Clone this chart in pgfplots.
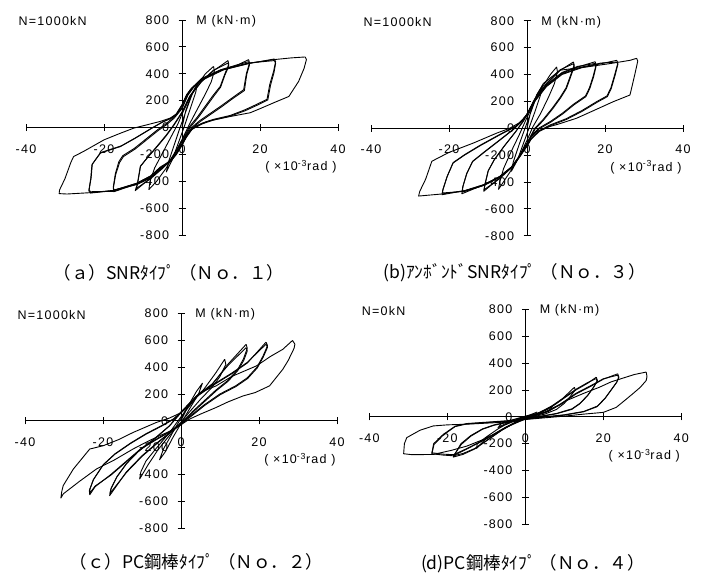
\documentclass[border=0pt]{standalone}
\usepackage{fontspec}
\setmainfont{Liberation Sans}
\newfontfamily\lbl[LetterSpace=10]{Liberation Sans}
\newfontfamily\jp{Noto Sans CJK JP}
\usepackage{pgfplots}
\pgfplotsset{compat=1.18}

\pgfplotsset{
  hys/.style={
    width=312pt, height=215pt, scale only axis,
    xmin=-40, xmax=40, ymin=-800, ymax=800,
    axis lines=middle, axis line style={-, black, line width=0.8pt},
    xtick={-40,-20,0,20,40}, ytick={-800,-600,...,800},
    xticklabels={-40,-20,0,20,40},
    yticklabels={-800,-600,-400,-200,0,200,400,600,800},
    hide obscured x ticks=false, hide obscured y ticks=false,
    tick align=center, major tick length=7pt,
    tick style={black, line width=0.8pt},
    ticklabel style={font=\lbl\fontsize{12.5}{14}\selectfont},
    xticklabel style={anchor=north, yshift=-10pt},
    yticklabel style={anchor=east, xshift=-6pt},
    clip=false,
    cycle list={{black, solid}},
    every axis plot post/.append style={black, solid, line width=0.9pt, line join=round, mark=none},
  }
}
\newcommand{\tl}{\lbl\fontsize{12.5}{14}\selectfont}

\begin{document}
\begin{tikzpicture}
\path (0pt,0pt) rectangle (704pt,575pt);

% (a) SNR No.1
\begin{axis}[hys, at={(26pt,340pt)}, anchor=south west]
\addplot coordinates {(0,0)(1,130)(2.5,250)(4,330)(3.5,260)(2,130)(0.5,0)(-1,-120)(-2.5,-240)(-4,-330)(-3.5,-260)(-2,-130)(-0.5,0)(1,120)(2.5,240)(4,330)};
\addplot coordinates {(8.1,455)(8.3,420)(7.5,340)(6,250)(4,140)(2,30)(0,-90)(-2,-200)(-4,-300)(-6.5,-400)(-8.5,-462)(-8.2,-400)(-7,-300)(-5,-190)(-3,-80)(-1,30)(0,100)(2,220)(4,320)(6,400)(8.1,455)};
\addplot coordinates {(11.8,498)(12,470)(11,400)(9.8,306)(8,240)(6,160)(4,80)(2,10)(0.5,-70)(-1,-150)(-3,-240)(-5,-300)(-8,-375)(-12,-470)(-11.5,-430)(-10.7,-291)(-9,-230)(-6,-130)(-4,-60)(-2,20)(0,110)(2,230)(5,340)(8,420)(11.8,498)};
\addplot coordinates {(11.8,480)(12,455)(11,390)(9.9,300)(8.2,235)(6.2,155)(4.2,75)(2.2,5)(0.6,-75)(-1,-155)(-3,-245)(-5,-305)(-8,-380)(-11.8,-455)(-11.4,-420)(-10.6,-285)(-8.9,-225)(-6,-125)(-4,-55)(-2,25)(0,115)(2,235)(5,345)(8,425)(11.8,480)};
\addplot coordinates {(17.1,505)(17.3,480)(16.5,400)(15.8,281)(12.8,219)(10,160)(7,100)(4.5,50)(2.5,0)(1,-60)(0,-120)(-1.5,-190)(-3,-250)(-5.6,-305)(-8,-370)(-11.6,-420)(-17.5,-478)(-17.6,-450)(-17,-350)(-16,-260)(-15,-216)(-12,-160)(-9,-90)(-6,-20)(-4,20)(-2,70)(0,140)(1.5,240)(3,300)(5,360)(10,425)(14,462)(17.1,505)};
\addplot coordinates {(17.1,490)(17.3,465)(16.6,395)(16,275)(13,215)(10.2,155)(7.2,95)(4.7,45)(2.6,-5)(1.1,-65)(0,-125)(-1.5,-195)(-3,-255)(-5.6,-310)(-8,-375)(-11.6,-425)(-17.5,-465)(-17.6,-440)(-17.1,-345)(-16.2,-255)(-15.2,-210)(-12.2,-155)(-9.2,-85)(-6.2,-15)(-4.2,25)(-2.2,75)(0,145)(1.5,245)(3,305)(5,365)(10,430)(14,465)(17.1,490)};
\addplot coordinates {(23.7,510)(24,490)(23.5,420)(22.5,320)(21.8,210)(19,170)(16,130)(12.4,90)(8,60)(5,30)(2.5,-10)(1,-70)(0,-130)(-1.5,-200)(-3,-250)(-5.6,-300)(-8,-360)(-11.6,-415)(-17.6,-470)(-23.5,-488)(-23.9,-470)(-23.4,-380)(-23.1,-278)(-21,-191)(-15.8,-142)(-12,-80)(-8,-10)(-5,40)(-3,65)(-1.5,95)(0,160)(1.2,240)(2.5,290)(5,355)(10,425)(17,475)(23.7,510)};
\addplot coordinates {(23.7,498)(24,478)(23.6,410)(22.7,315)(22,205)(19.2,165)(16.2,125)(12.6,87)(8.2,57)(5.2,27)(2.6,-13)(1.1,-73)(0,-133)(-1.5,-203)(-3,-253)(-5.6,-303)(-8,-365)(-11.6,-420)(-17.6,-475)(-23.5,-478)(-23.8,-462)(-23.3,-375)(-23,-272)(-20.8,-186)(-15.6,-137)(-11.8,-75)(-7.8,-5)(-4.8,45)(-2.8,70)(-1.4,100)(0,165)(1.2,245)(2.5,295)(5,360)(10,430)(17,480)(23.7,498)};
\addplot coordinates {(31.6,525)(31.9,505)(31.3,440)(29.9,343)(27.4,231)(24,190)(20,140)(17.5,110)(12.4,82)(6.4,45)(3.5,10)(2,-30)(0.5,-100)(-1,-170)(-2.5,-240)(-5.6,-295)(-8,-360)(-11.6,-415)(-17.6,-468)(-23.5,-485)(-29.5,-495)(-31.5,-492)(-31.4,-465)(-30,-380)(-28.5,-260)(-27.8,-216)(-25.3,-179)(-20,-92)(-16,-45)(-12.4,-5)(-9,20)(-5.6,45)(-3,70)(-1.5,100)(0,170)(1,230)(2.1,281)(5,350)(10.7,430)(17.5,480)(23.5,505)(28,518)(31.6,525)};
\node[anchor=west] at (axis cs:-42.8,790) {\tl N=1000kN};
\node[anchor=west] at (axis cs:2.8,790) {\tl M (kN·m)};
\node at (axis cs:30.5,-290) {\tl ( ×10\textsuperscript{-3}rad )};
\end{axis}

% (b) unbonded SNR No.3
\begin{axis}[hys, at={(371pt,339.3pt)}, anchor=south west]
\addplot coordinates {(0,0)(1,130)(2.5,250)(4,320)(3.5,250)(2,120)(0.5,0)(-1,-120)(-2.5,-240)(-4,-320)(-3.5,-250)(-2,-120)(-0.5,0)(1,120)(2.5,240)(4,320)};
\addplot coordinates {(7.6,456)(7.8,420)(7,330)(5.5,230)(3.5,110)(1.5,10)(0,-90)(-2,-210)(-4,-310)(-7.3,-455)(-7,-400)(-6,-300)(-4,-170)(-2,-50)(0,80)(2,200)(4,310)(6,400)(7.6,456)};
\addplot coordinates {(11.9,493)(12.1,470)(11,380)(10,300)(8.5,230)(6.5,150)(4,60)(2,0)(0,-110)(-2,-210)(-4,-290)(-7,-370)(-11.1,-470)(-10.8,-420)(-10,-320)(-8.5,-240)(-6,-140)(-3,-30)(-1,50)(0,100)(2,210)(5,330)(8.5,430)(11.9,493)};
\addplot coordinates {(11.9,480)(12.1,458)(11.1,375)(10.1,295)(8.6,225)(6.6,145)(4.1,55)(2.1,-5)(0,-115)(-2,-215)(-4,-295)(-7,-375)(-11,-458)(-10.7,-410)(-9.9,-315)(-8.4,-235)(-5.9,-135)(-2.9,-25)(-0.9,55)(0,105)(2,215)(5,335)(8.5,435)(11.9,480)};
\addplot coordinates {(17.5,495)(17.7,470)(17,390)(16,300)(15,240)(12,180)(9,110)(6,50)(3,0)(1,-60)(0,-120)(-2,-210)(-4,-290)(-7,-360)(-11,-420)(-16.7,-488)(-16.5,-440)(-15.5,-340)(-14,-250)(-11,-180)(-7,-90)(-3.5,-10)(-1,60)(0,100)(2,210)(5,320)(9,410)(13,455)(17.5,495)};
\addplot coordinates {(17.5,482)(17.7,460)(17.1,385)(16.1,295)(15.1,235)(12.1,175)(9.1,105)(6.1,45)(3.1,-5)(1,-65)(0,-125)(-2,-215)(-4,-295)(-7,-365)(-11,-425)(-16.6,-475)(-16.4,-430)(-15.4,-335)(-13.9,-245)(-10.9,-175)(-6.9,-85)(-3.4,-5)(-1,65)(0,105)(2,215)(5,325)(9,415)(13,460)(17.5,482)};
\addplot coordinates {(23,505)(23.3,485)(22.5,400)(21.5,300)(20.5,240)(18,200)(14,130)(10,70)(6,25)(3,-20)(1,-80)(0,-130)(-2,-210)(-4,-290)(-7,-360)(-11,-420)(-16,-465)(-21.8,-495)(-21.6,-460)(-20.5,-360)(-19,-260)(-16,-200)(-12,-130)(-7,-50)(-3,10)(-1,60)(0,100)(2,200)(5,310)(9,400)(14,450)(19,480)(23,505)};
\addplot coordinates {(23,492)(23.3,475)(22.6,395)(21.6,295)(20.6,235)(18.1,195)(14.1,125)(10.1,65)(6.1,20)(3.1,-25)(1,-85)(0,-135)(-2,-215)(-4,-295)(-7,-365)(-11,-425)(-16,-470)(-21.7,-482)(-21.5,-452)(-20.4,-355)(-18.9,-255)(-15.9,-195)(-11.9,-125)(-6.9,-45)(-2.9,15)(-1,65)(0,105)(2,205)(5,315)(9,405)(14,455)(19,485)(23,492)};
\addplot coordinates {(28.1,520)(28.4,500)(27.8,420)(27,320)(26.4,247)(22.1,197)(17,130)(12.7,74)(8,30)(5.9,13)(3,-20)(1,-80)(0,-130)(-2,-220)(-4,-290)(-7,-360)(-11,-420)(-16,-465)(-22,-490)(-27.8,-505)(-27.5,-470)(-26,-380)(-24.4,-246)(-20,-180)(-13.8,-111)(-7.8,-37)(-4.4,0)(-2,40)(0,100)(1.6,197)(4.2,333)(8.5,432)(15.3,456)(21.3,481)(26.4,505)(28.1,520)};
\node[anchor=west] at (axis cs:-42.8,790) {\tl N=1000kN};
\node[anchor=west] at (axis cs:2.8,790) {\tl M (kN·m)};
\node at (axis cs:30.5,-290) {\tl ( ×10\textsuperscript{-3}rad )};
\end{axis}

% (c) PC bar No.2
\begin{axis}[hys, at={(25pt,46.7pt)}, anchor=south west]
\addplot coordinates {(0,0)(2,120)(4,220)(5.5,280)(4.5,200)(2,80)(0,-20)(-2,-120)(-4,-230)(-5.5,-290)(-4.5,-210)(-2,-80)(0,20)(2,120)(4,220)(5.5,280)};
\addplot coordinates {(11.2,458)(11.5,420)(10,330)(8,250)(5,160)(2,60)(0,-10)(-3,-110)(-6,-220)(-8.5,-330)(-10.6,-433)(-10.3,-380)(-9,-300)(-6.5,-210)(-3,-90)(0,30)(3,140)(6,240)(9,360)(11.2,458)};
\addplot coordinates {(16.7,569)(17,540)(16,460)(14.5,380)(12,300)(9,230)(6,150)(3,70)(0,-20)(-3,-90)(-6,-160)(-10,-260)(-14,-380)(-18.3,-557)(-18,-510)(-16.5,-420)(-14,-320)(-11,-230)(-7,-140)(-3,-40)(0,60)(4,180)(8,270)(12,420)(16.7,569)};
\addplot coordinates {(16.7,545)(17,520)(16.1,450)(14.6,375)(12.1,295)(9.1,225)(6.1,145)(3.1,65)(0,-25)(-3,-95)(-6,-165)(-10,-265)(-14,-385)(-18.2,-540)(-17.9,-500)(-16.4,-415)(-13.9,-315)(-10.9,-225)(-6.9,-135)(-2.9,-35)(0,65)(4,185)(8,275)(12,410)(16.7,545)};
\addplot coordinates {(21.8,585)(22.2,560)(21,480)(19.5,400)(17,320)(14,260)(10,200)(6,120)(3,50)(0,-20)(-3,-80)(-6,-130)(-10,-200)(-14,-300)(-18,-400)(-22,-490)(-23.4,-550)(-23.5,-520)(-22.5,-440)(-20,-330)(-17,-250)(-13,-170)(-9,-100)(-5,-40)(-2,10)(0,60)(4,180)(8,260)(13,350)(17,430)(21.8,585)};
\addplot coordinates {(21.8,570)(22.2,548)(21.1,475)(19.6,395)(17.1,315)(14.1,255)(10.1,195)(6.1,115)(3.1,45)(0,-25)(-3,-85)(-6,-135)(-10,-205)(-14,-305)(-18,-405)(-22,-485)(-23.3,-535)(-23.4,-510)(-22.4,-435)(-19.9,-325)(-16.9,-245)(-12.9,-165)(-8.9,-95)(-4.9,-35)(-1.9,15)(0,65)(4,185)(8,265)(13,355)(17,435)(21.8,570)};
\addplot coordinates {(28.6,598)(29.2,570)(29,540)(27.5,450)(26.1,383)(22.7,260)(19,210)(15.9,185)(12,140)(9,99)(5,50)(2,10)(0,-30)(-3,-80)(-5.5,-111)(-9,-160)(-12.3,-210)(-17,-290)(-21.7,-359)(-26,-450)(-30.2,-544)(-30.8,-575)(-30.6,-530)(-30.2,-482)(-27.6,-359)(-23.4,-210)(-20,-186)(-16,-140)(-12.3,-87)(-6.3,-12)(-3,20)(0,60)(2,110)(4.8,210)(9,260)(13,330)(19.3,408)(23,480)(26.1,532)(28.6,598)};
\node[anchor=west] at (axis cs:-42.8,790) {\tl N=1000kN};
\node[anchor=west] at (axis cs:2.8,790) {\tl M (kN·m)};
\node at (axis cs:30.5,-290) {\tl ( ×10\textsuperscript{-3}rad )};
\end{axis}

% (d) PC bar No.4
\begin{axis}[hys, at={(369.3pt,50.7pt)}, anchor=south west]
\addplot coordinates {(0,0)(3,35)(1,10)(-1,-10)(-3,-35)(-1,-10)(1,10)(3,35)};
\addplot coordinates {(7,80)(6,40)(3,15)(0,-5)(-3,-20)(-7,-80)(-6,-45)(-3,-20)(0,5)(3,25)(7,80)};
\addplot coordinates {(12.6,220)(12.8,200)(11.5,150)(10,100)(8,55)(5,20)(2,0)(0,-15)(-3,-35)(-6,-70)(-9,-130)(-12.5,-235)(-12.3,-200)(-10,-150)(-7,-90)(-4,-40)(0,0)(3,20)(6,60)(9,120)(12.6,220)};
\addplot coordinates {(18.2,295)(18.5,270)(17.5,220)(16,160)(14,100)(12,60)(8,25)(4,5)(0,-15)(-4,-35)(-8,-60)(-11,-90)(-14,-140)(-16.5,-200)(-18.5,-300)(-16,-280)(-13,-240)(-10,-180)(-6,-100)(-3,-50)(0,-10)(4,30)(7,80)(10,140)(13,200)(16,250)(18.2,295)};
\addplot coordinates {(18.2,285)(18.4,262)(17.4,215)(15.9,155)(13.9,95)(11.9,55)(7.9,22)(3.9,2)(0,-18)(-4,-38)(-8,-63)(-11,-93)(-14,-145)(-16.4,-205)(-18.4,-290)(-15.9,-272)(-12.9,-235)(-9.9,-175)(-5.9,-95)(-2.9,-45)(0,-5)(4,35)(7,85)(10,145)(13,205)(16,255)(18.2,285)};
\addplot coordinates {(23.7,320)(24,295)(23.5,260)(22,200)(20.5,140)(18.5,80)(15,40)(10,15)(5,0)(0,-15)(-5,-30)(-10,-40)(-15,-50)(-18,-70)(-21,-130)(-23.5,-200)(-24,-275)(-21,-285)(-18.5,-290)(-15,-240)(-10,-165)(-5,-80)(0,-15)(5,30)(9,90)(13,170)(17,230)(20,280)(23.7,320)};
\addplot coordinates {(23.7,310)(23.9,290)(23.4,255)(21.9,195)(20.4,135)(18.4,75)(14.9,37)(9.9,12)(4.9,-3)(0,-18)(-5,-33)(-10,-43)(-15,-53)(-18,-73)(-21,-135)(-23.4,-205)(-23.9,-268)(-21,-278)(-18.4,-282)(-14.9,-235)(-9.9,-160)(-4.9,-75)(0,-10)(5,35)(9,95)(13,175)(17,235)(20,283)(23.7,310)};
\addplot coordinates {(31,333)(31.2,300)(31,270)(29.5,220)(27.5,170)(25,110)(23.3,70)(20,33)(15,20)(10,5)(6,-5)(0,-20)(-6.6,-42)(-15,-55)(-20,-60)(-23.6,-68)(-27,-100)(-30.4,-155)(-31,-200)(-31.2,-275)(-29,-282)(-23.6,-280)(-19,-250)(-15,-218)(-10,-160)(-6.6,-105)(-3,-50)(0,-18)(3,15)(6.2,45)(10.5,120)(15,175)(19,220)(22,260)(25.8,295)(28,315)(31,333)};
\node[anchor=west] at (axis cs:-42.8,790) {\tl N=0kN};
\node[anchor=west] at (axis cs:2.8,790) {\tl M (kN·m)};
\node at (axis cs:30.5,-290) {\tl ( ×10\textsuperscript{-3}rad )};
\end{axis}

\node at (169pt,302pt) {\jp\fontsize{17.5}{20}\selectfont （ａ）SNRﾀｲﾌﾟ （Ｎｏ．１）};
\node at (514.5pt,302pt) {\jp\fontsize{17.5}{20}\selectfont (b)ｱﾝﾎﾞﾝﾄﾞSNRﾀｲﾌﾟ （Ｎｏ．３）};
\node at (196.5pt,13.3pt) {\jp\fontsize{17.5}{20}\selectfont （ｃ）PC鋼棒ﾀｲﾌﾟ （Ｎｏ．２）};
\node at (533pt,11.7pt) {\jp\fontsize{17.5}{20}\selectfont (d)PC鋼棒ﾀｲﾌﾟ （Ｎｏ．４）};
\end{tikzpicture}
\end{document}
